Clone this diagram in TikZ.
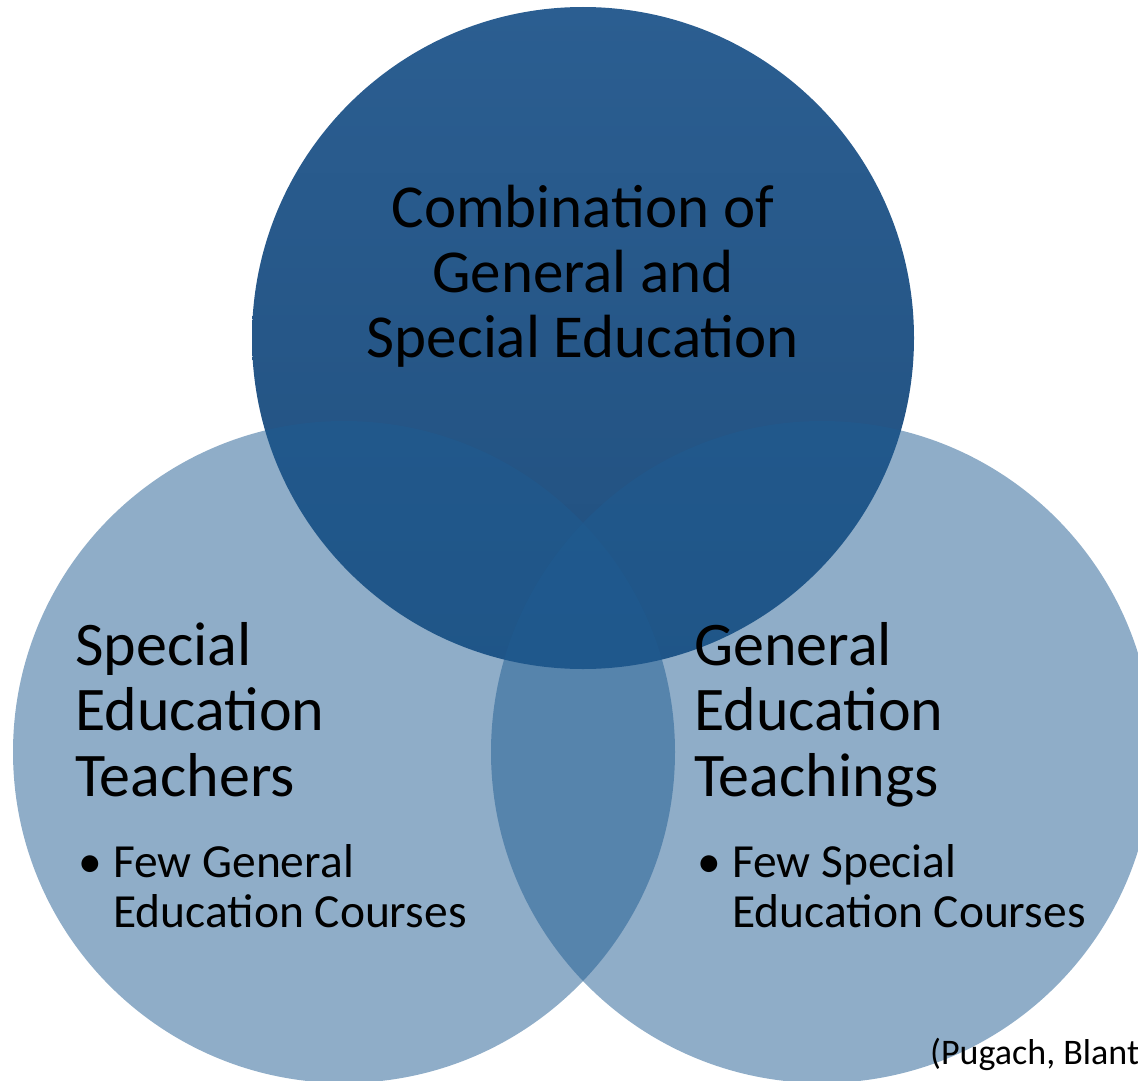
\documentclass[tikz,border=0pt]{standalone}
\usepackage{fontspec}
\setmainfont{Carlito}
\definecolor{topA}{RGB}{43,94,145}
\definecolor{topB}{RGB}{33,80,127}
\definecolor{lowblue}{RGB}{31,91,145}
\tikzset{
  venn/.style={circle, minimum size=662pt, inner sep=0pt, outer sep=0pt},
  topcirc/.style={venn, top color=topA, bottom color=topB, draw=none},
  lowcirc/.style={venn, fill=lowblue, fill opacity=0.5, draw=none},
  bigtext/.style={font=\fontsize{62}{65.5}\selectfont, text=black, inner sep=0pt, align=left, anchor=base west},
  toptext/.style={font=\fontsize{61}{65}\selectfont, text=black, inner sep=0pt, align=center, anchor=base},
  bultext/.style={font=\fontsize{47.5}{50}\selectfont, text=black, inner sep=0pt, align=left, anchor=base west},
  citetext/.style={font=\fontsize{36}{40}\selectfont, text=black, inner sep=0pt, anchor=base west}
}
\begin{document}
\begin{tikzpicture}[x=1pt,y=-1pt]
\useasboundingbox (0,0) rectangle (1138,1081);
\clip (0,0) rectangle (1138,1081);
\node[topcirc] (topc) at (583,338) {};
\node[lowcirc] (leftc) at (344,752) {};
\node[lowcirc] (rightc) at (822,752) {};
\node[toptext] (toptxt) at (583,357) {Combination of\\General and\\Special Education};
\node[bigtext] (lefttxt) at (75,796) {Special\\Education\\Teachers};
\node[bultext] (leftbul) at (78,927) {\makebox[35pt][l]{\textbullet}Few General\\\hspace*{35pt}Education Courses};
\node[bigtext] (righttxt) at (694,796) {General\\Education\\Teachings};
\node[bultext] (rightbul) at (697,927) {\makebox[35pt][l]{\textbullet}Few Special\\\hspace*{35pt}Education Courses};
\node[citetext] (cite) at (930,1064) {(Pugach, Blanton};
\end{tikzpicture}
\end{document}
